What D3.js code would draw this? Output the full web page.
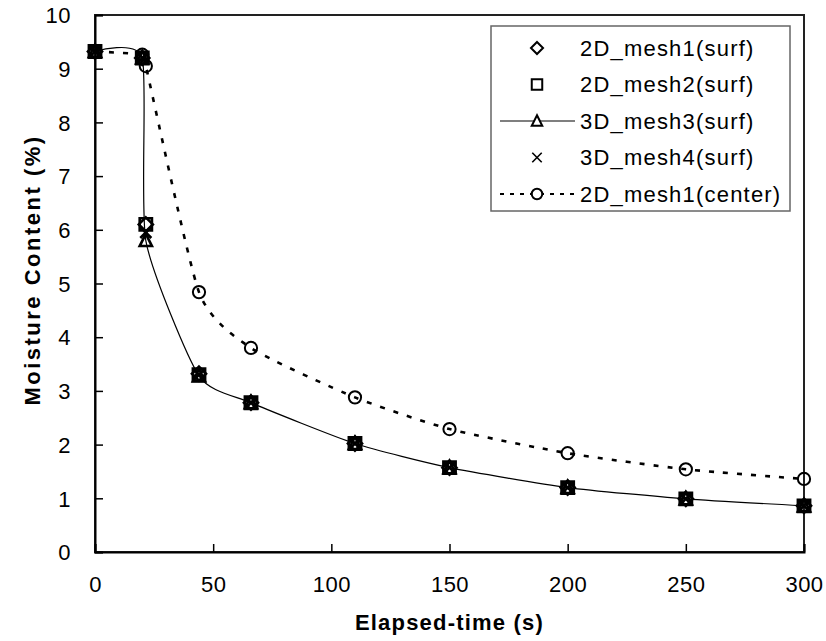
<!DOCTYPE html>
<html>
<head>
<meta charset="utf-8">
<script src="https://cdn.jsdelivr.net/npm/d3@7"></script>
<style>
  html, body { margin: 0; padding: 0; background: #fff; }
  svg { display: block; }
  text { font-family: Arial, "Liberation Sans", sans-serif; fill: #000; }
</style>
</head>
<body>
<svg id="chart" width="826" height="641"></svg>
<script>
// ---- data ----
const xTickValues = [0, 50, 100, 150, 200, 250, 300];
const yTickValues = [0, 1, 2, 3, 4, 5, 6, 7, 8, 9, 10];
const times       = [0, 20, 21.5, 44, 66, 110, 150, 200, 250, 300];
const mesh1Surf   = [9.32, 9.20, 6.10, 3.32, 2.78, 2.02, 1.57, 1.20, 0.99, 0.86];
const mesh2Surf   = [9.32, 9.20, 6.10, 3.30, 2.78, 2.02, 1.57, 1.20, 0.99, 0.86];
const mesh3Surf   = [9.32, 9.20, 5.80, 3.28, 2.78, 2.02, 1.57, 1.20, 0.99, 0.86];
const mesh4Surf   = [9.32, 9.20, 5.95, 3.30, 2.78, 2.02, 1.57, 1.20, 0.99, 0.86];
const mesh1Center = [9.32, 9.26, 9.05, 4.84, 3.80, 2.88, 2.29, 1.84, 1.54, 1.36];
const seriesNames = ["2D_mesh1(surf)", "2D_mesh2(surf)", "3D_mesh3(surf)", "3D_mesh4(surf)", "2D_mesh1(center)"];
const xTitle = "Elapsed-time (s)";
const yTitle = "Moisture Content (%)";

// ---- custom marker shapes ----
const shapeDiamond = { draw(ctx, size) { const r = Math.sqrt(size) / 2 * 1.15;
  ctx.moveTo(0, -r); ctx.lineTo(r, 0); ctx.lineTo(0, r); ctx.lineTo(-r, 0); ctx.closePath(); } };
const shapeSquare = { draw(ctx, size) { const r = Math.sqrt(size) / 2;
  ctx.moveTo(-r, -r); ctx.lineTo(r, -r); ctx.lineTo(r, r); ctx.lineTo(-r, r); ctx.closePath(); } };
const shapeTriangle = { draw(ctx, size) { const r = Math.sqrt(size) / 2;
  ctx.moveTo(0, -r * 1.1); ctx.lineTo(r, r * 0.9); ctx.lineTo(-r, r * 0.9); ctx.closePath(); } };
const shapeX = { draw(ctx, size) { const r = Math.sqrt(size) / 2 * 0.9;
  ctx.moveTo(-r, -r); ctx.lineTo(r, r); ctx.moveTo(r, -r); ctx.lineTo(-r, r); } };
const shapeCircle = { draw(ctx, size) { const r = Math.sqrt(size) / 2;
  ctx.moveTo(r, 0); ctx.arc(0, 0, r, 0, 2 * Math.PI); } };

const series = [
  { name: seriesNames[0], values: mesh1Surf,   shape: shapeDiamond,  line: null },
  { name: seriesNames[1], values: mesh2Surf,   shape: shapeSquare,   line: null },
  { name: seriesNames[2], values: mesh3Surf,   shape: shapeTriangle, line: "solid" },
  { name: seriesNames[3], values: mesh4Surf,   shape: shapeX,        line: null },
  { name: seriesNames[4], values: mesh1Center, shape: shapeCircle,   line: "dash" }
];

// ---- layout ----
const svg = d3.select("#chart");
const plot = { left: 95, right: 804, top: 15, bottom: 552 };
const x = d3.scaleLinear().domain([0, 300]).range([plot.left, plot.right]);
const y = d3.scaleLinear().domain([0, 10]).range([plot.bottom, plot.top]);

// frame
svg.append("rect")
  .attr("x", plot.left).attr("y", plot.top)
  .attr("width", plot.right - plot.left).attr("height", plot.bottom - plot.top)
  .attr("fill", "none").attr("stroke", "#222").attr("stroke-width", 2);

// axes (ticks inside)
const xAxis = d3.axisBottom(x).tickValues(xTickValues).tickSize(-8).tickPadding(24).tickFormat(d3.format("d"));
const gx = svg.append("g").attr("transform", `translate(0,${plot.bottom})`).call(xAxis);
const yAxis = d3.axisLeft(y).tickValues(yTickValues).tickSize(-8).tickPadding(24).tickFormat(d3.format("d"));
const gy = svg.append("g").attr("transform", `translate(${plot.left},0)`).call(yAxis);
[gx, gy].forEach(g => {
  g.select(".domain").attr("stroke", "#000").attr("stroke-width", 2);
  g.selectAll(".tick line").attr("stroke", "#000").attr("stroke-width", 1.5);
  g.selectAll(".tick text").attr("font-size", 22).attr("letter-spacing", "0.5px")
    .attr("font-family", "Arial, 'Liberation Sans', sans-serif").attr("fill", "#000");
});
gx.selectAll(".tick text").attr("dy", "0.71em");
gy.selectAll(".tick text").attr("dy", "0.35em");

// axis titles
svg.append("text").attr("x", (plot.left + plot.right) / 2).attr("y", 630)
  .attr("text-anchor", "middle").attr("font-size", 22).attr("font-weight", "bold")
  .attr("letter-spacing", "1.2px").text(xTitle);
svg.append("text").attr("transform", `translate(40,${270}) rotate(-90)`)
  .attr("text-anchor", "middle").attr("font-size", 22).attr("font-weight", "bold")
  .attr("letter-spacing", "2.5px").text(yTitle);

// lines
const lineGen = vals => d3.line()
  .x((d, i) => x(times[i])).y(d => y(d))
  .curve(d3.curveCardinal.tension(0.4))(vals);

series.forEach(s => {
  if (!s.line) return;
  svg.append("path").attr("d", lineGen(s.values)).attr("fill", "none")
    .attr("stroke", "#000")
    .attr("stroke-width", s.line === "dash" ? 2.6 : 1.2)
    .attr("stroke-dasharray", s.line === "dash" ? "5,9" : null);
});

// markers
series.forEach(s => {
  const sym = d3.symbol().type(s.shape).size(150);
  svg.append("g").selectAll("path").data(s.values).join("path")
    .attr("transform", (d, i) => `translate(${x(times[i])},${y(d)})`)
    .attr("d", sym).attr("fill", "none").attr("stroke", "#000")
    .attr("stroke-width", s.shape === shapeCircle ? 2 : 2.6);
});

// legend
const lg = svg.append("g");
lg.append("rect").attr("x", 491).attr("y", 26).attr("width", 299).attr("height", 185)
  .attr("fill", "#fff").attr("stroke", "#666").attr("stroke-width", 1.5);
series.forEach((s, i) => {
  const cy = 48 + i * 36.5;
  if (s.line) {
    lg.append("line").attr("x1", 500).attr("x2", 575).attr("y1", cy).attr("y2", cy)
      .attr("stroke", "#000").attr("stroke-width", s.line === "dash" ? 2 : 1.2)
      .attr("stroke-dasharray", s.line === "dash" ? "4,6" : null);
  }
  lg.append("path").attr("transform", `translate(537,${cy})`)
    .attr("d", d3.symbol().type(s.shape).size(110))
    .attr("fill", s.line ? "#fff" : "none").attr("stroke", "#000")
    .attr("stroke-width", s.shape === shapeX ? 1.6 : 2);
  lg.append("text").attr("x", 580).attr("y", cy).attr("dy", "0.35em")
    .attr("font-size", 22).attr("letter-spacing", "1.2px").text(s.name);
});
</script>
</body>
</html>
